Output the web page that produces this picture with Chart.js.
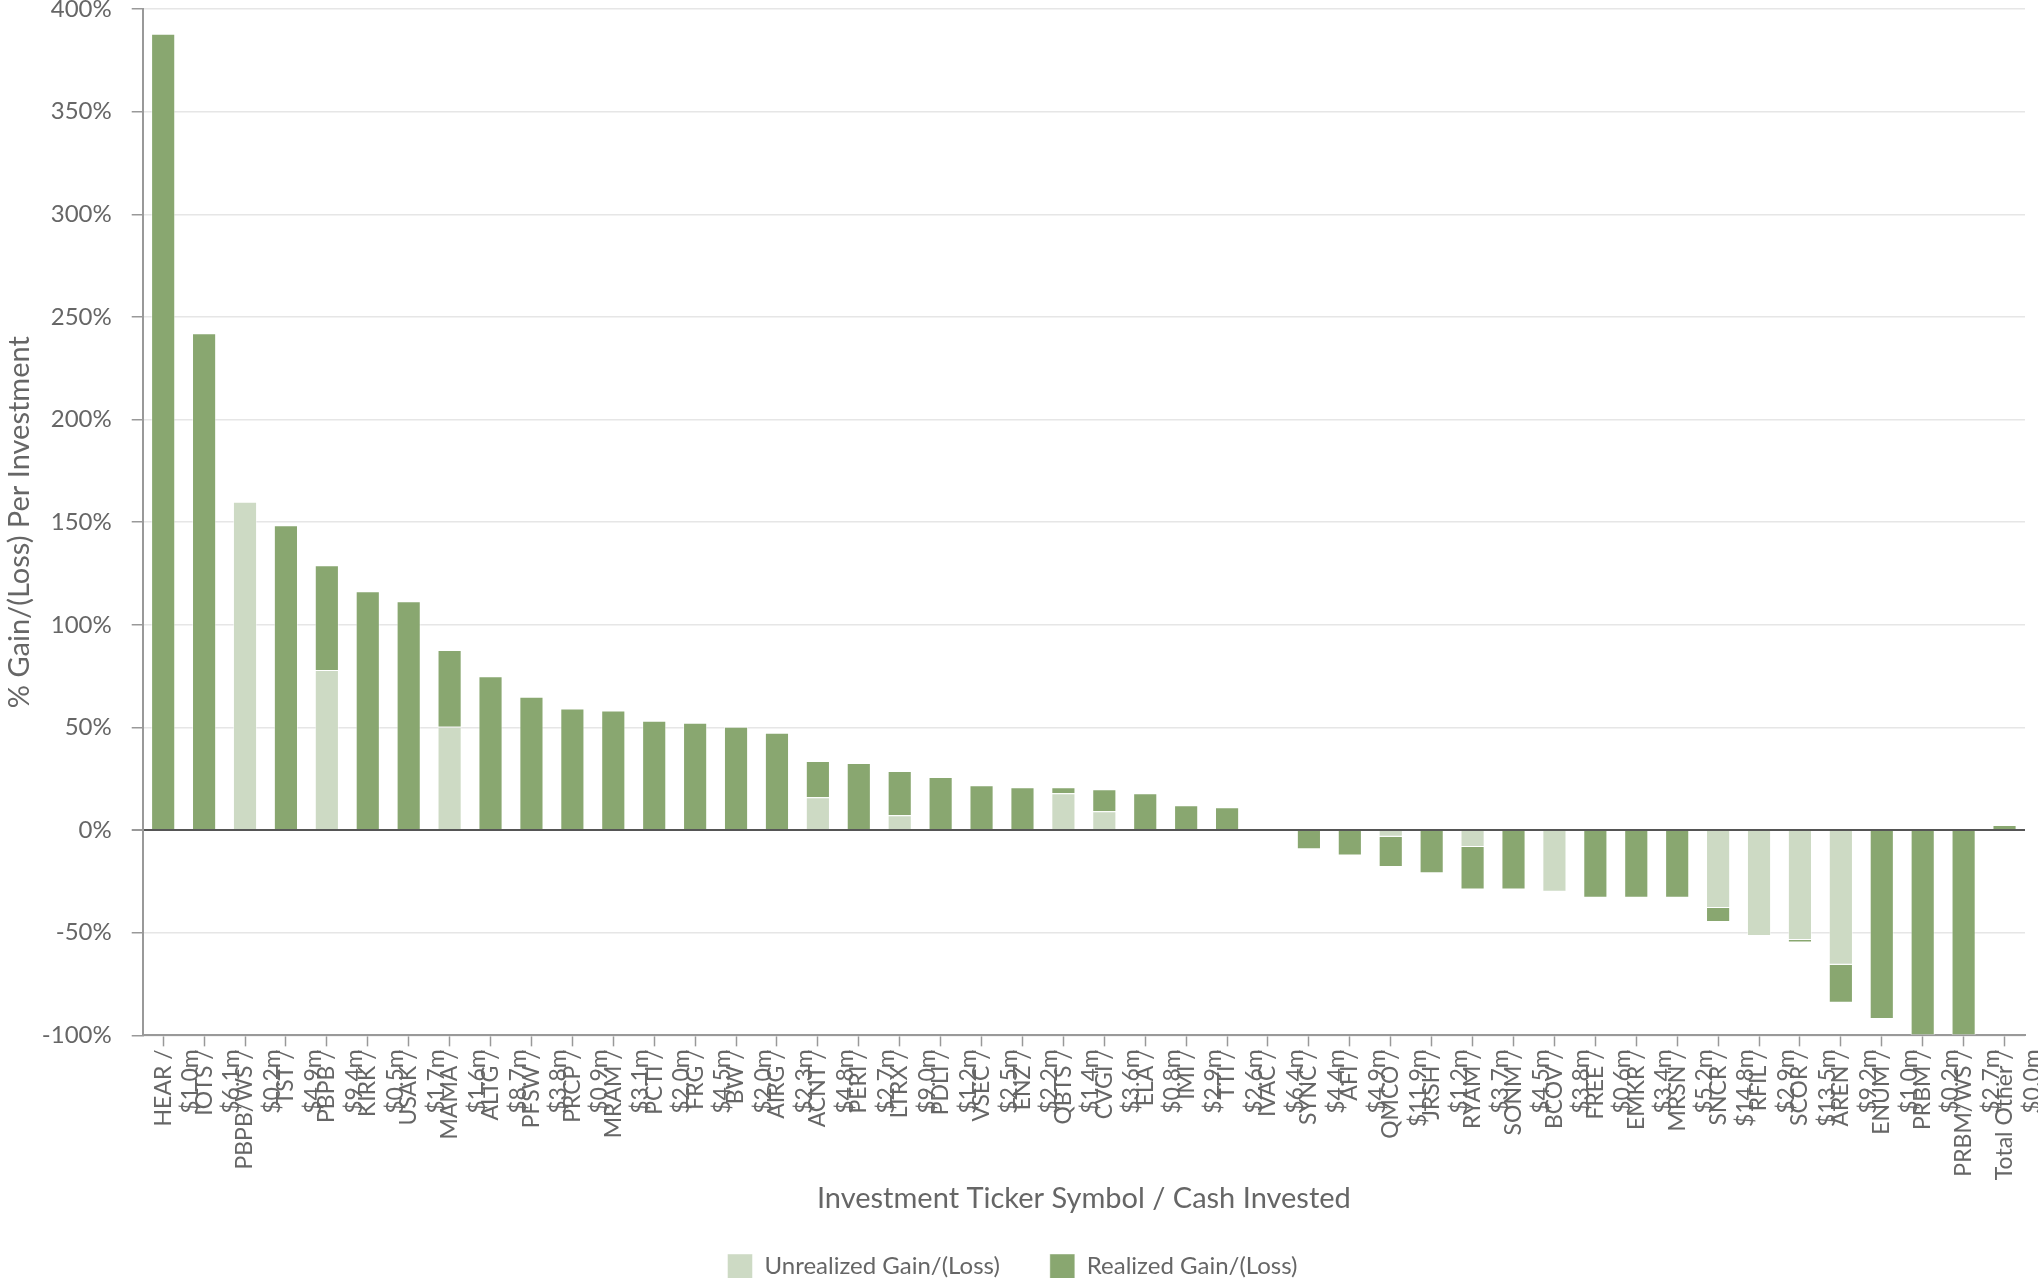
<!DOCTYPE html>
<html>
<head>
<meta charset="utf-8">
<script src="https://cdn.jsdelivr.net/npm/chart.js@4/dist/chart.umd.min.js"></script>
<style>
  html, body { margin: 0; padding: 0; background: #fff; }
  #wrap { width: 2038px; height: 1278px; }
</style>
</head>
<body>
<div id="wrap"><canvas id="chart" width="2038" height="1278"></canvas></div>
<script>
// ticker / cash invested
const tickers = ["HEAR", "IOTS", "PBPB/WS", "TST", "PBPB", "KIRK", "USAK", "MAMA", "ALTG", "PFSW",
    "PRCP", "MRAM", "PCTI", "FRG", "BW", "AIRG", "ACNT", "PERI", "LTRX", "PDLI",
    "VSEC", "ENZ", "QBTS", "CVGI", "ELA", "IMI", "TTI", "IVAC", "SYNC", "AFI",
    "QMCO", "JRSH", "RYAM", "SONM", "BCOV", "FREE", "EMKR", "MRSN", "SNCR", "RFIL",
    "SCOR", "AREN", "ENUM", "PRBM", "PRBM/WS", "Total Other"];
const invested = ["$1.0m", "$6.1m", "$0.2m", "$4.9m", "$9.4m", "$0.5m", "$1.7m", "$1.6m", "$8.7m", "$3.8m",
    "$0.9m", "$3.1m", "$2.0m", "$4.5m", "$2.0m", "$2.3m", "$4.8m", "$2.7m", "$9.0m", "$1.2m",
    "$2.5m", "$2.2m", "$1.4m", "$3.6m", "$0.8m", "$2.9m", "$2.6m", "$6.4m", "$4.4m", "$4.9m",
    "$11.9m", "$1.2m", "$3.7m", "$4.5m", "$3.8m", "$0.6m", "$3.4m", "$5.2m", "$14.8m", "$2.9m",
    "$13.5m", "$9.2m", "$1.0m", "$0.2m", "$2.7m", "$0.0m"];

// % gain/(loss), null where a bar has no such segment
const unrealized = [null, null, 160, null, 78, null, null, 50.3, null, null,
    null, null, null, null, null, null, 16, null, 7.2, null,
    null, null, 18, 9.2, null, null, null, -0.5, null, null,
    -3.3, null, -8.2, null, -30, null, null, null, -37.9, -51.6,
    -53.6, -65.6, null, null, null, null];
const realized = [388, 242, null, 148.5, 51, 116.4, 111.5, 37.4, 75, 65,
    59.2, 58.2, 53.3, 52.3, 50.3, 47.4, 17.7, 32.7, 21.6, 25.8,
    21.9, 20.9, 2.9, 10.7, 18, 12.1, 11.1, null, -9.3, -12.4,
    -14.7, -21, -20.8, -29, null, -33, -33, -33, -6.9, null,
    -1.2, -18.5, -92, -100, -100, 2.5];

const labels = tickers.map((t, i) => [t + " /", invested[i]]);

Chart.defaults.font.family = "Lato";
Chart.defaults.color = "#666";

new Chart(document.getElementById("chart"), {
    type: "bar",
    data: {
        labels: labels,
        datasets: [
            {
                label: "Unrealized Gain/(Loss)",
                data: unrealized,
                backgroundColor: "#cddac4",
                borderColor: "rgba(255,255,255,0.45)",
                borderWidth: 1,
            },
            {
                label: "Realized Gain/(Loss)",
                data: realized,
                backgroundColor: "#89a770",
                borderColor: "rgba(255,255,255,0.45)",
                borderWidth: 1,
            },
        ],
    },
    options: {
        responsive: false,
        animation: false,
        barPercentage: 0.59,
        categoryPercentage: 1,
        layout: { padding: { top: 9, right: 13, bottom: -11, left: 0 } },
        scales: {
            x: {
                stacked: true,
                grid: {
                    offset: false,
                    drawOnChartArea: false,
                    tickLength: 11,
                    tickColor: "#999",
                    tickWidth: 1.5,
                },
                border: { color: "#999", width: 2 },
                ticks: {
                    autoSkip: false,
                    minRotation: 90,
                    maxRotation: 90,
                    padding: 3,
                    font: { size: 23 },
                },
                title: {
                    display: true,
                    text: "Investment Ticker Symbol / Cash Invested",
                    font: { size: 29 },
                    padding: { top: -2, bottom: -12 },
                },
                afterFit: (scale) => {
                    scale.paddingLeft = 0;
                    scale.paddingRight = 0;
                },
            },
            y: {
                stacked: true,
                min: -100,
                max: 400,
                grid: {
                    color: (ctx) => (ctx.tick && ctx.tick.value === 0 ? "#555" : "#e6e6e6"),
                    lineWidth: (ctx) => (ctx.tick && ctx.tick.value === 0 ? 2 : 1.5),
                    tickLength: 11,
                    tickColor: "#999",
                },
                border: { color: "#999", width: 2 },
                ticks: {
                    stepSize: 50,
                    padding: 20,
                    font: { size: 24 },
                    callback: (v) => v + "%",
                },
                title: {
                    display: true,
                    text: "% Gain/(Loss) Per Investment",
                    font: { size: 29 },
                    padding: { top: 2, bottom: -15 },
                },
                afterFit: (scale) => {
                    scale.paddingTop = 0;
                    scale.paddingBottom = 0;
                },
            },
        },
        plugins: {
            legend: {
                position: "bottom",
                labels: {
                    boxWidth: 25,
                    boxHeight: 25,
                    padding: 50,
                    font: { size: 24 },
                },
            },
            tooltip: { enabled: false },
        },
    },
});
</script>
</body>
</html>
